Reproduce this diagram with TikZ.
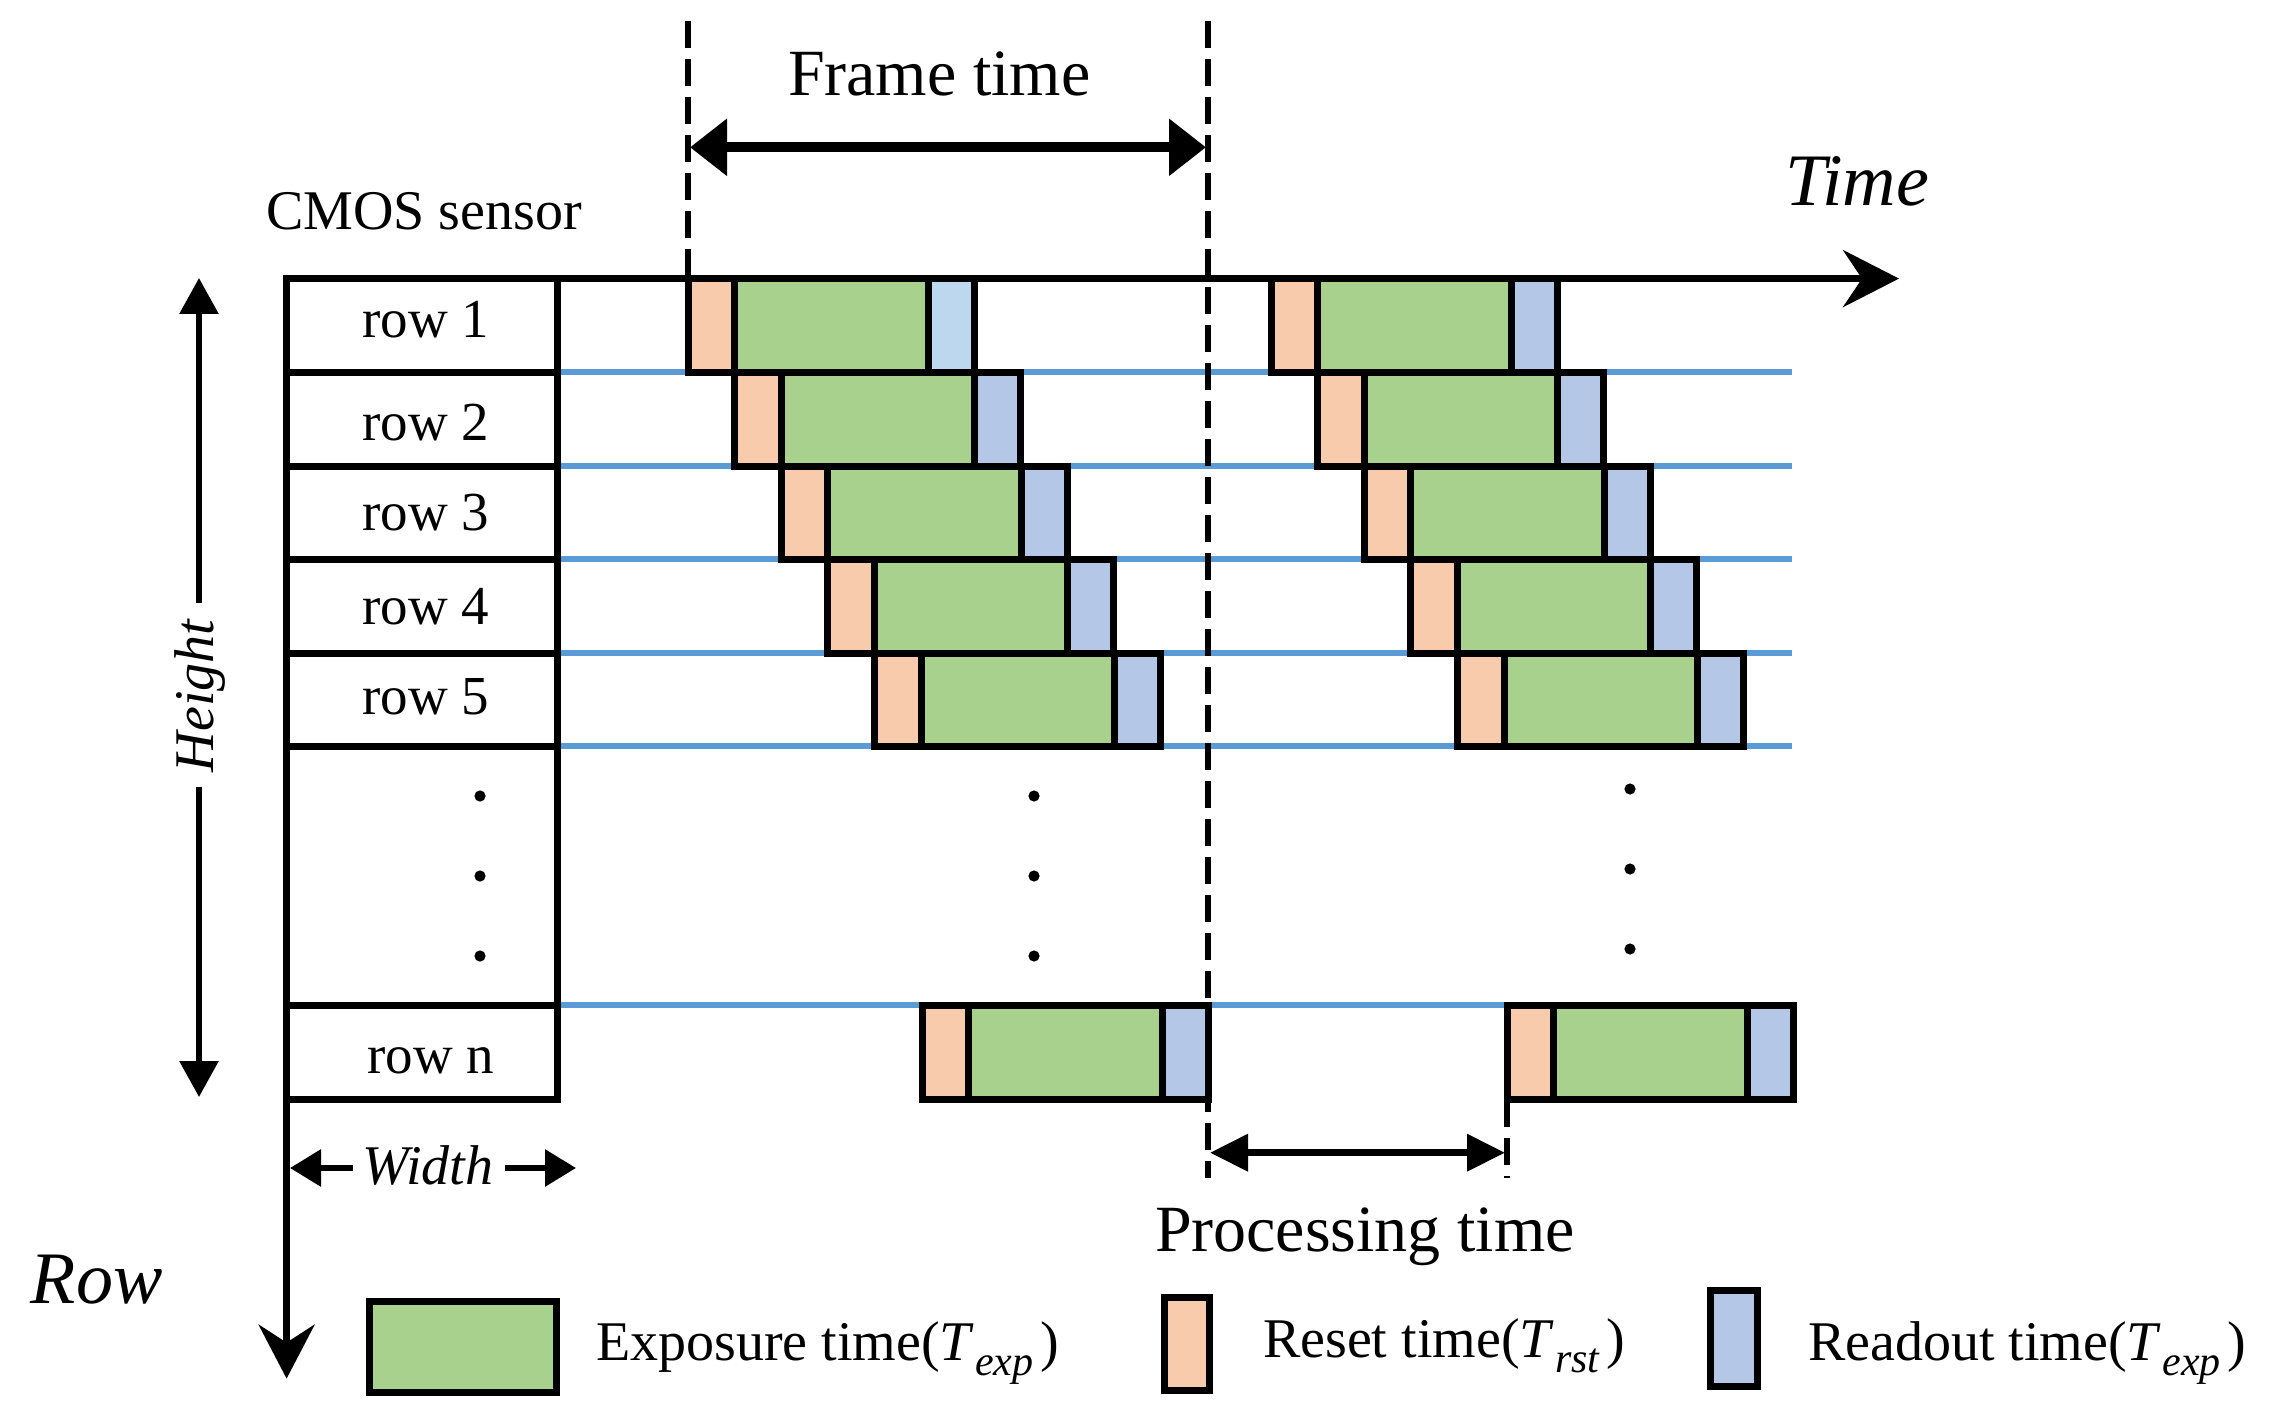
\documentclass[tikz,border=0pt]{standalone}
\usepackage{fontspec}
\setmainfont{Liberation Serif}
\usetikzlibrary{arrows.meta}
\definecolor{rstc}{HTML}{F8CBAD}
\definecolor{expc}{HTML}{A9D18E}
\definecolor{rdoc}{HTML}{B4C7E7}
\definecolor{rdolt}{HTML}{BDD7EE}
\definecolor{gridblue}{HTML}{5B9BD5}
\newcommand\myblk[4]{%
  \draw[blkline, fill=rstc] (#1,#2) rectangle (#1+46.6,#3);
  \draw[blkline, fill=expc] (#1+46.6,#2) rectangle (#1+240,#3);
  \draw[blkline, fill=#4] (#1+240,#2) rectangle (#1+286,#3);
}
\newcommand\mysubT[1]{\textit{T}\kern0.02em\raisebox{-0.28em}{\fontsize{21}{24}\selectfont\itshape #1}\kern0.12em}
\begin{document}
\begin{tikzpicture}[x=0.5pt,y=-0.5pt,
  boxline/.style={draw=black, line width=3.5pt},
  blkline/.style={draw=black, line width=3.5pt},
  gline/.style={draw=gridblue, line width=2.7pt},
  dsh/.style={draw=black, line width=3.2pt, dash pattern=on 13.5pt off 5.5pt},
  txt/.style={inner sep=0pt, outer sep=0pt},
  f28/.style={font=\fontsize{28}{32}\selectfont},
  f27/.style={font=\fontsize{27.5}{31}\selectfont},
  f33/.style={font=\fontsize{33}{38}\selectfont},
  fit28/.style={font=\fontsize{28}{32}\selectfont\itshape},
  fit37/.style={font=\fontsize{37}{42}\selectfont\itshape},
  axisarrow/.style={draw=black, line width=3.3pt},
  dimarrow/.style={draw=black, line width=3pt},
]
\useasboundingbox (0,0) rectangle (2270,1423);

% blue row lines
\foreach \yy in {372,466,559,653,746,1005}
  \draw[gline] (557,\yy) -- (1792,\yy);

% frame 1 blocks
\myblk{688}{278.6}{372}{rdolt}
\foreach \k/\ya/\yb in {1/372/466,2/466/559,3/559/653,4/653/746}
  {\myblk{688+\k*46.6}{\ya}{\yb}{rdoc}}
\myblk{922}{1005}{1099.5}{rdoc}
% frame 2 blocks
\foreach \k/\ya/\yb in {0/278.6/372,1/372/466,2/466/559,3/559/653,4/653/746}
  {\myblk{1271+\k*46.6}{\ya}{\yb}{rdoc}}
\myblk{1507}{1005}{1099.5}{rdoc}

% sensor column
\draw[boxline] (286.6,278.6) rectangle (557,1099.5);
\foreach \yy in {372,466,559,653,746,1005}
  \draw[boxline] (286.6,\yy) -- (557,\yy);

% axes
\coordinate (O) at (286.6,278.6);
\coordinate (tEnd) at (1899,278.6);
\coordinate (rEnd) at (286.6,1378.6);
\draw[axisarrow, -{Stealth[length=28pt,width=28.5pt,inset=9.5pt]}] (O) -- (tEnd);
\draw[axisarrow, -{Stealth[length=27pt,width=28pt,inset=9pt]}] (O) -- (rEnd);

% dashed guide lines
\coordinate (d1t) at (688,21);   \coordinate (d1b) at (688,278.6);
\coordinate (d2t) at (1208,21);  \coordinate (d2b) at (1208,1178);
\coordinate (d3t) at (1507,1100); \coordinate (d3b) at (1507,1178);
\draw[dsh] (d1t) -- (d1b);
\draw[dsh] (d2t) -- (d2b);
\draw[dsh] (d3t) -- (d3b);

% frame time arrow
\coordinate (ft1) at (690,147.3);
\coordinate (ft2) at (1206,147.3);
\draw[draw=black, line width=5pt, {Triangle[length=18.5pt,width=27.5pt]}-{Triangle[length=18.5pt,width=27.5pt]}] (ft1) -- (ft2);

% processing time arrow
\coordinate (pt1) at (1210,1152.7);
\coordinate (pt2) at (1505,1152.7);
\draw[draw=black, line width=3.5pt, {Triangle[length=19pt,width=18pt]}-{Triangle[length=19pt,width=18pt]}] (pt1) -- (pt2);

% height arrow
\coordinate (h1) at (199,603);  \coordinate (h1e) at (199,278);
\coordinate (h2) at (199,787);  \coordinate (h2e) at (199,1097);
\draw[dimarrow, -{Triangle[length=18pt,width=19pt]}] (h1) -- (h1e);
\draw[dimarrow, -{Triangle[length=18pt,width=19pt]}] (h2) -- (h2e);
\node[txt, fit28, rotate=90, anchor=base] (height) at (213,696) {Height};

% width arrow
\coordinate (w1) at (352.7,1168); \coordinate (w1e) at (290,1168);
\coordinate (w2) at (504.5,1168); \coordinate (w2e) at (576,1168);
\draw[dimarrow, -{Triangle[length=15.5pt,width=18pt]}] (w1) -- (w1e);
\draw[dimarrow, -{Triangle[length=15.5pt,width=18pt]}] (w2) -- (w2e);
\node[txt, fit28, anchor=base] (width) at (428,1184) {Width};

% dots
\foreach \yy in {796,876,956} {
  \fill (480,\yy) circle[radius=2.8pt];
  \fill (1034,\yy) circle[radius=2.8pt];
}
\foreach \yy in {789,869,949}
  \fill (1630,\yy) circle[radius=2.8pt];

% labels
\node[txt, f28, anchor=base west] (cmos) at (266,230) {CMOS sensor};
\node[txt, f33, anchor=base west] (ftime) at (788,96) {Frame time};
\node[txt, fit37, anchor=base west] (time) at (1785,206) {Time};
\node[txt, fit37, anchor=base west] (rowlab) at (31,1303) {Row};
\node[txt, f33, anchor=base west] (ptime) at (1155,1251) {Processing time};

\node[txt, f27, anchor=base] (r1) at (426,337) {row 1};
\node[txt, f27, anchor=base] (r2) at (426,440) {row 2};
\node[txt, f27, anchor=base] (r3) at (426,530) {row 3};
\node[txt, f27, anchor=base] (r4) at (426,624) {row 4};
\node[txt, f27, anchor=base] (r5) at (426,714) {row 5};
\node[txt, f27, anchor=base] (rn) at (431,1073) {row n};

% legend
\draw[blkline, fill=expc] (369.5,1301) rectangle (556.5,1392);
\draw[blkline, fill=rstc] (1164,1297) rectangle (1209,1390);
\draw[blkline, fill=rdoc] (1710.5,1290.5) rectangle (1757,1386);
\node[txt, f28, anchor=base west] (lexp) at (596,1360) {Exposure time(\mysubT{exp})};
\node[txt, f28, anchor=base west] (lrst) at (1263,1357) {Reset time(\mysubT{rst})};
\node[txt, f28, anchor=base west] (lrdo) at (1808,1360) {Readout time(\mysubT{exp})};
\end{tikzpicture}
\end{document}
